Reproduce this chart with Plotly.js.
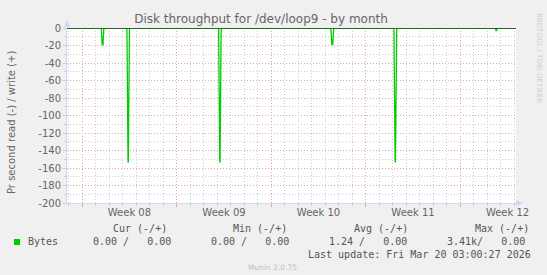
<!DOCTYPE html>
<html>
<head>
<meta charset="utf-8">
<script src="https://cdn.plot.ly/plotly-3.0.1.min.js"></script>
<style>html,body{margin:0;padding:0;background:#f0f0f0;}#chart{width:547px;height:275px;}</style>
</head>
<body>
<div id="chart"></div>
<script>
// ---- data ----
const readTimes = [
  '2026-02-14 21:00',
  '2026-02-17 10:00', '2026-02-17 11:30', '2026-02-17 13:00', '2026-02-17 14:30',
  '2026-02-19 07:30', '2026-02-19 09:30', '2026-02-19 10:00', '2026-02-19 12:00',
  '2026-02-26 02:30', '2026-02-26 04:30', '2026-02-26 05:00', '2026-02-26 07:00',
  '2026-03-06 10:00', '2026-03-06 11:45', '2026-03-06 13:15', '2026-03-06 15:00',
  '2026-03-11 02:00', '2026-03-11 04:15', '2026-03-11 04:45', '2026-03-11 07:00',
  '2026-03-18 14:30', '2026-03-18 15:30', '2026-03-18 16:30', '2026-03-18 17:30',
  '2026-03-20 03:00'
];
const readValues = [
  0,
  0, -19, -19, 0,
  0, -153, -153, 0,
  0, -153, -153, 0,
  0, -19, -19, 0,
  0, -153, -153, 0,
  0, -3, -3, 0,
  0
];
const xRange = ['2026-02-14 21:00', '2026-03-20 03:00'];
const weekStarts = ['2026-02-16', '2026-02-23', '2026-03-02', '2026-03-09', '2026-03-16'];
const weekMids = ['2026-02-19 12:00', '2026-02-26 12:00', '2026-03-05 12:00', '2026-03-12 12:00', '2026-03-19 12:00'];
const weekLabels = ['Week 08', 'Week 09', 'Week 10', 'Week 11', 'Week 12'];
const yTickVals = [0, -20, -40, -60, -80, -100, -120, -140, -160, -180, -200];
const yTickText = ['0', '-20', '-40', '-60', '-80', '-100', '-120', '-140', '-160', '-180', '-200'];
const statHeaders = ['Cur (-/+)', 'Min (-/+)', 'Avg (-/+)', 'Max (-/+)'];
const statValues = ['0.00 /   0.00', '0.00 /   0.00', '1.24 /   0.00', '3.41k/   0.00'];
const seriesName = 'Bytes';
const chartTitle = 'Disk throughput for /dev/loop9 - by month';
const yTitle = 'Pr second read (-) / write (+)';
const lastUpdate = 'Last update: Fri Mar 20 03:00:27 2026';
const footer = 'Munin 2.0.75';
const sideText = 'RRDTOOL / TOBI OETIKER';

// ---- layout helpers (pixel -> paper) ----
const L = 67, R = 516, T = 28, B = 203, W = 547, H = 275;
const px = x => (x - L) / (R - L);
const py = y => (B - y) / (B - T);

const mono = {family: 'DejaVu Sans Mono', size: 10, color: '#555'};
const sans = {family: 'DejaVu Sans', size: 10, color: '#666'};

const ann = [];
ann.push({xref: 'paper', yref: 'paper', x: px(11), y: py(123), text: yTitle, textangle: -90,
  showarrow: false, xanchor: 'center', yanchor: 'middle', font: {family: 'DejaVu Sans', size: 10, color: '#666'}});
const headerX = [111, 231, 352, 473];
const valueRight = [173, 291, 409, 527];
statHeaders.forEach((h, i) => ann.push({xref: 'paper', yref: 'paper', x: px(headerX[i]), y: py(228), text: h,
  showarrow: false, xanchor: 'left', yanchor: 'middle', font: mono}));
statValues.forEach((v, i) => ann.push({xref: 'paper', yref: 'paper', x: px(valueRight[i]), y: py(241.5), text: v.replace(/ /g, '&nbsp;'),
  showarrow: false, xanchor: 'right', yanchor: 'middle', font: mono}));
ann.push({xref: 'paper', yref: 'paper', x: px(26), y: py(241.5), text: seriesName, showarrow: false,
  xanchor: 'left', yanchor: 'middle', font: mono});
ann.push({xref: 'paper', yref: 'paper', x: px(533), y: py(254.5), text: lastUpdate, showarrow: false,
  xanchor: 'right', yanchor: 'middle', font: mono});
ann.push({xref: 'paper', yref: 'paper', x: px(272), y: py(267), text: footer, showarrow: false,
  xanchor: 'center', yanchor: 'middle', font: {family: 'DejaVu Sans', size: 7.5, color: '#c0c0c0'}});
ann.push({xref: 'paper', yref: 'paper', x: px(539), y: py(58), text: sideText, textangle: 90, showarrow: false,
  xanchor: 'center', yanchor: 'middle', font: {family: 'DejaVu Sans', size: 7, color: '#cfcfcf'}});

const axisCol = '#cfd6f8';
const shapes = [
  // zero line on top
  {type: 'line', xref: 'paper', yref: 'y', x0: 0, x1: 1, y0: 0, y1: 0, line: {color: '#000', width: 1}, layer: 'above'},
  // legend colour box
  {type: 'rect', xref: 'paper', yref: 'paper', x0: px(14), x1: px(20), y0: py(245), y1: py(239),
   fillcolor: '#00cc00', line: {width: 0}},
  // axis arrows
  {type: 'path', xref: 'paper', yref: 'paper',
   path: `M ${px(64)} ${py(27)} L ${px(70)} ${py(27)} L ${px(67)} ${py(20)} Z`, fillcolor: axisCol, line: {width: 0}},
  {type: 'path', xref: 'paper', yref: 'paper',
   path: `M ${px(516)} ${py(200)} L ${px(516)} ${py(206)} L ${px(523)} ${py(203)} Z`, fillcolor: axisCol, line: {width: 0}}
];

const traces = [
  {x: readTimes, y: readValues, type: 'scatter', mode: 'lines', line: {color: '#00cc00', width: 1.3},
   hoverinfo: 'skip', showlegend: false},
  {x: [xRange[0]], y: [0], xaxis: 'x2', type: 'scatter', mode: 'lines', hoverinfo: 'skip', showlegend: false,
   line: {width: 0}}
];

const layout = {
  width: W, height: H,
  paper_bgcolor: '#f0f0f0', plot_bgcolor: '#ffffff',
  margin: {l: L, r: W - R, t: T, b: H - B, pad: 0},
  showlegend: false,
  title: {text: chartTitle, xref: 'paper', x: px(261), xanchor: 'center', yref: 'container', y: 1 - 19 / H, yanchor: 'middle',
    font: {family: 'DejaVu Sans', size: 12, color: '#666'}},
  xaxis: {
    type: 'date', range: xRange, tickmode: 'array', tickvals: weekMids, ticktext: weekLabels,
    ticks: '', showgrid: false, zeroline: false, showline: true, linecolor: axisCol, linewidth: 1,
    tickfont: sans,
    minor: {tickmode: 'linear', tick0: '2026-02-16', dtick: 86400000, showgrid: true, gridcolor: '#cccccc',
      griddash: '1px,2px', gridwidth: 1, ticks: 'outside', ticklen: 2, tickcolor: '#cccccc'}
  },
  xaxis2: {
    type: 'date', range: xRange, overlaying: 'x', side: 'bottom', tickmode: 'array', tickvals: weekStarts,
    showticklabels: false, showgrid: true, gridcolor: '#eaa0a0', griddash: '1px,2px', gridwidth: 1,
    ticks: 'outside', ticklen: 3, tickcolor: '#eaa0a0', zeroline: false, showline: false
  },
  yaxis: {
    range: [-200, 0], tickmode: 'array', tickvals: yTickVals, ticktext: yTickText,
    showgrid: true, gridcolor: '#eaa0a0', griddash: '1px,2px', gridwidth: 1, zeroline: false,
    showline: true, linecolor: axisCol, linewidth: 1, ticks: 'outside', ticklen: 3, tickcolor: '#cccccc',
    tickfont: sans,
    minor: {tickmode: 'linear', tick0: 0, dtick: 10, showgrid: true, gridcolor: '#cccccc', griddash: '1px,2px', gridwidth: 1,
      ticks: 'outside', ticklen: 2, tickcolor: '#cccccc'}
  },
  annotations: ann,
  shapes: shapes
};

Plotly.newPlot('chart', traces, layout, {displayModeBar: false, staticPlot: true});
</script>
</body>
</html>
